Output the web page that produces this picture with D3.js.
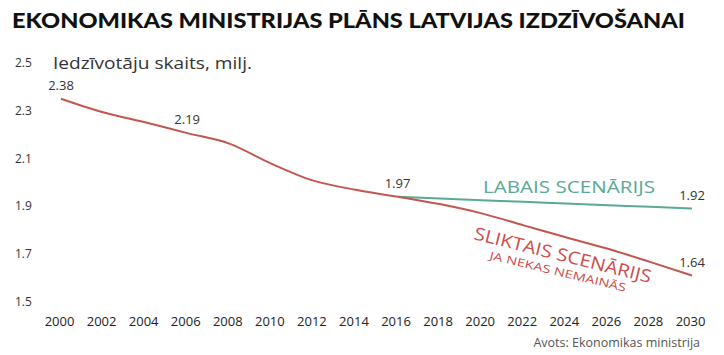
<!DOCTYPE html>
<html>
<head>
<meta charset="utf-8">
<script src="https://cdn.jsdelivr.net/npm/d3@7"></script>
<style>
  html, body { margin: 0; padding: 0; background: #fff; }
  svg { display: block; }
  text { font-family: "Open Sans", "Noto Sans", sans-serif; }
</style>
</head>
<body>
<svg id="chart" width="724" height="355"></svg>
<script>
// ---- data ----
const title = "EKONOMIKAS MINISTRIJAS PLĀNS LATVIJAS IZDZĪVOŠANAI";
const subtitle = "Iedzīvotāju skaits, milj.";
const source = "Avots: Ekonomikas ministrija";
const yearTicks = [2000, 2002, 2004, 2006, 2008, 2010, 2012, 2014, 2016, 2018, 2020, 2022, 2024, 2026, 2028, 2030];
const valueTicks = [1.5, 1.7, 1.9, 2.1, 2.3, 2.5];

const histYears = [2000, 2002, 2004, 2006, 2008, 2010, 2012, 2014, 2016];
const histValues = [2.38, 2.323, 2.281, 2.236, 2.192, 2.108, 2.037, 1.999, 1.97];

const scenYears = [2016, 2018, 2020, 2022, 2024, 2026, 2028, 2030];
const goodValues = [1.97, 1.962, 1.955, 1.949, 1.941, 1.934, 1.928, 1.92];
const badValues = [1.97, 1.939, 1.90, 1.85, 1.80, 1.752, 1.697, 1.64];

const annYears = [2000, 2006, 2016, 2030, 2030];
const annValues = [2.38, 2.236, 1.97, 1.92, 1.64];
const annTexts = ["2.38", "2.19", "1.97", "1.92", "1.64"];

const goodLabel = "LABAIS SCENĀRIJS";
const badLabel = "SLIKTAIS SCENĀRIJS";
const badSubLabel = "JA NEKAS NEMAINĀS";

// ---- drawing ----
const svg = d3.select("#chart");
const x = d3.scaleLinear().domain([2000, 2030]).range([61, 692]);
const y = d3.scaleLinear().domain([1.5, 2.5]).range([309, 70]);

const red = "#c2574f";
const green = "#5aa896";

svg.append("text")
  .attr("x", 12).attr("y", 28)
  .attr("textLength", 673).attr("lengthAdjust", "spacingAndGlyphs")
  .style("font-family", "Lato, 'DejaVu Sans', sans-serif")
  .style("font-weight", "900").style("font-size", "21.5px").attr("fill", "#111")
  .text(title);

svg.append("text")
  .attr("x", 53).attr("y", 69)
  .attr("textLength", 199).attr("lengthAdjust", "spacingAndGlyphs")
  .style("font-size", "17px").attr("fill", "#333")
  .text(subtitle);

// y axis labels
const yAxis = d3.axisLeft(y).tickValues(valueTicks).tickSize(0).tickFormat(d3.format(".1f"));
const gy = svg.append("g").attr("transform", "translate(15,0)").call(yAxis);
gy.select(".domain").remove();
gy.selectAll("text")
  .attr("text-anchor", "start").attr("x", 0).attr("dy", "-0.3em")
  .style("font-family", "'Open Sans', sans-serif")
  .style("font-size", "12px").attr("fill", "#333");

// x axis labels
const xAxis = d3.axisBottom(x).tickValues(yearTicks).tickSize(0).tickFormat(d3.format("d"));
const gx = svg.append("g").attr("transform", "translate(-2,313)").call(xAxis);
gx.select(".domain").remove();
gx.selectAll("text")
  .attr("dy", "0.8em")
  .style("font-family", "'Open Sans', sans-serif")
  .style("font-size", "13px").attr("fill", "#222");

// lines
const line = d3.line().x(d => x(d[0])).y(d => y(d[1])).curve(d3.curveMonotoneX);
svg.append("path")
  .datum(scenYears.map((yr, i) => [yr, goodValues[i]]))
  .attr("d", line).attr("fill", "none").attr("stroke", green).attr("stroke-width", 2);
svg.append("path")
  .datum(scenYears.map((yr, i) => [yr, badValues[i]]))
  .attr("d", line).attr("fill", "none").attr("stroke", red).attr("stroke-width", 2);
svg.append("path")
  .datum(histYears.map((yr, i) => [yr, histValues[i]]))
  .attr("d", line).attr("fill", "none").attr("stroke", red).attr("stroke-width", 2);

// annotations
svg.selectAll("text.ann")
  .data(annTexts)
  .join("text").attr("class", "ann")
  .attr("x", (d, i) => x(annYears[i]))
  .attr("y", (d, i) => y(annValues[i]) - 9)
  .attr("text-anchor", "middle")
  .style("font-size", "13px").attr("fill", "#333")
  .text(d => d);

// scenario labels
svg.append("text")
  .attr("x", 483).attr("y", 193)
  .attr("textLength", 172).attr("lengthAdjust", "spacingAndGlyphs")
  .style("font-size", "17px").attr("fill", green)
  .text(goodLabel);

svg.append("text")
  .attr("transform", "translate(473,239) rotate(14)")
  .attr("textLength", 182).attr("lengthAdjust", "spacingAndGlyphs")
  .style("font-size", "17.5px").attr("fill", "#cf4b4b")
  .text(badLabel);

svg.append("text")
  .attr("transform", "translate(489,259) rotate(13.5)")
  .attr("textLength", 140).attr("lengthAdjust", "spacingAndGlyphs")
  .style("font-size", "11px").attr("fill", "#cf4b4b")
  .text(badSubLabel);

svg.append("text")
  .attr("x", 700).attr("y", 347)
  .attr("text-anchor", "end")
  .style("font-size", "12.5px").attr("fill", "#555")
  .text(source);
</script>
</body>
</html>
